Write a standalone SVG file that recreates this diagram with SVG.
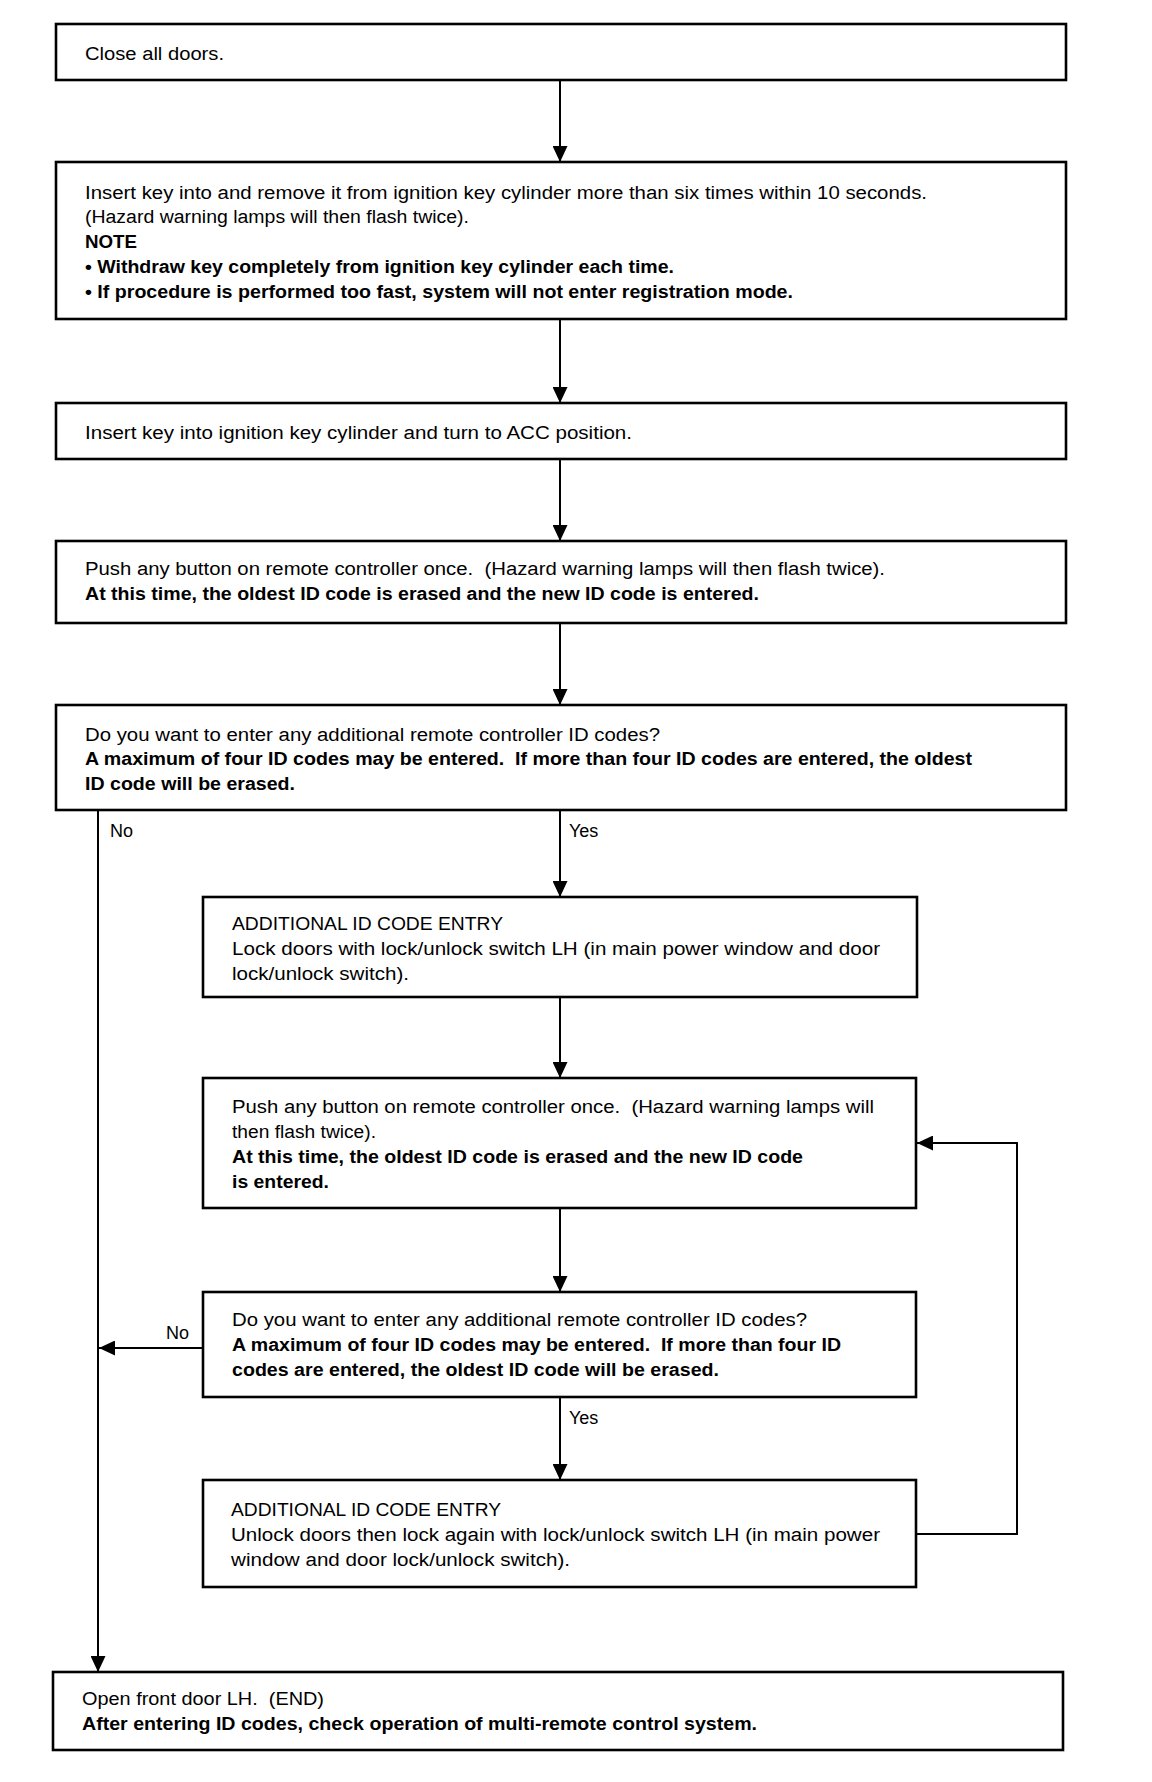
<svg xmlns="http://www.w3.org/2000/svg" width="1152" height="1782" viewBox="0 0 1152 1782">
<style>
.box{fill:#fff;stroke:#000;stroke-width:2.6}
.t{font-family:"Liberation Sans",Arial,sans-serif;font-size:18px;fill:#000;white-space:pre}
.b{font-weight:bold}
.c{fill:none;stroke:#000;stroke-width:2}
</style>
<defs>
<marker id="ah" markerUnits="userSpaceOnUse" markerWidth="17" markerHeight="15" refX="16" refY="7.5" orient="auto">
<path d="M0,0 L16,7.5 L0,15 z" fill="#000"/>
</marker>
</defs>
<rect width="1152" height="1782" fill="#fff"/>
<g id="connectors">
<path class="c" d="M560,80 V162" marker-end="url(#ah)"/>
<path class="c" d="M560,319 V403" marker-end="url(#ah)"/>
<path class="c" d="M560,459 V541" marker-end="url(#ah)"/>
<path class="c" d="M560,623 V705" marker-end="url(#ah)"/>
<path class="c" d="M560,810 V897" marker-end="url(#ah)"/>
<path class="c" d="M560,997 V1078" marker-end="url(#ah)"/>
<path class="c" d="M560,1208 V1292" marker-end="url(#ah)"/>
<path class="c" d="M560,1397 V1480" marker-end="url(#ah)"/>
<path class="c" d="M98,810 V1672" marker-end="url(#ah)"/>
<path class="c" d="M203,1348 H99" marker-end="url(#ah)"/>
<path class="c" d="M916,1534 H1017 V1143 H917" marker-end="url(#ah)"/>
<text class="t" x="110" y="837">No</text>
<text class="t" x="569" y="837">Yes</text>
<text class="t" x="166" y="1339">No</text>
<text class="t" x="569" y="1424">Yes</text>
</g>
<g id="n1">
<rect class="box" x="56" y="24" width="1010" height="56"/>
<text class="t" x="85" y="60" textLength="139" lengthAdjust="spacingAndGlyphs">Close all doors.</text>
</g>
<g id="n2">
<rect class="box" x="56" y="162" width="1010" height="157"/>
<text class="t" x="85" y="199" textLength="842" lengthAdjust="spacingAndGlyphs">Insert key into and remove it from ignition key cylinder more than six times within 10 seconds.</text>
<text class="t" x="85" y="223" textLength="384" lengthAdjust="spacingAndGlyphs">(Hazard warning lamps will then flash twice).</text>
<text class="t b" x="85" y="248" textLength="52" lengthAdjust="spacingAndGlyphs">NOTE</text>
<text class="t b" x="85" y="273" textLength="589" lengthAdjust="spacingAndGlyphs">• Withdraw key completely from ignition key cylinder each time.</text>
<text class="t b" x="85" y="298" textLength="708" lengthAdjust="spacingAndGlyphs">• If procedure is performed too fast, system will not enter registration mode.</text>
</g>
<g id="n3">
<rect class="box" x="56" y="403" width="1010" height="56"/>
<text class="t" x="85" y="439" textLength="547" lengthAdjust="spacingAndGlyphs">Insert key into ignition key cylinder and turn to ACC position.</text>
</g>
<g id="n4">
<rect class="box" x="56" y="541" width="1010" height="82"/>
<text class="t" x="85" y="575" textLength="800" lengthAdjust="spacingAndGlyphs">Push any button on remote controller once.  (Hazard warning lamps will then flash twice).</text>
<text class="t b" x="85" y="600" textLength="674" lengthAdjust="spacingAndGlyphs">At this time, the oldest ID code is erased and the new ID code is entered.</text>
</g>
<g id="n5">
<rect class="box" x="56" y="705" width="1010" height="105"/>
<text class="t" x="85" y="741" textLength="575" lengthAdjust="spacingAndGlyphs">Do you want to enter any additional remote controller ID codes?</text>
<text class="t b" x="85" y="765" textLength="887" lengthAdjust="spacingAndGlyphs">A maximum of four ID codes may be entered.  If more than four ID codes are entered, the oldest</text>
<text class="t b" x="85" y="790" textLength="210" lengthAdjust="spacingAndGlyphs">ID code will be erased.</text>
</g>
<g id="n6">
<rect class="box" x="203" y="897" width="714" height="100"/>
<text class="t" x="232" y="930" textLength="271" lengthAdjust="spacingAndGlyphs">ADDITIONAL ID CODE ENTRY</text>
<text class="t" x="232" y="955" textLength="648" lengthAdjust="spacingAndGlyphs">Lock doors with lock/unlock switch LH (in main power window and door</text>
<text class="t" x="232" y="980" textLength="177" lengthAdjust="spacingAndGlyphs">lock/unlock switch).</text>
</g>
<g id="n7">
<rect class="box" x="203" y="1078" width="713" height="130"/>
<text class="t" x="232" y="1113" textLength="642" lengthAdjust="spacingAndGlyphs">Push any button on remote controller once.  (Hazard warning lamps will</text>
<text class="t" x="232" y="1138" textLength="144" lengthAdjust="spacingAndGlyphs">then flash twice).</text>
<text class="t b" x="232" y="1163" textLength="571" lengthAdjust="spacingAndGlyphs">At this time, the oldest ID code is erased and the new ID code</text>
<text class="t b" x="232" y="1188" textLength="97" lengthAdjust="spacingAndGlyphs">is entered.</text>
</g>
<g id="n8">
<rect class="box" x="203" y="1292" width="713" height="105"/>
<text class="t" x="232" y="1326" textLength="575" lengthAdjust="spacingAndGlyphs">Do you want to enter any additional remote controller ID codes?</text>
<text class="t b" x="232" y="1351" textLength="609" lengthAdjust="spacingAndGlyphs">A maximum of four ID codes may be entered.  If more than four ID</text>
<text class="t b" x="232" y="1376" textLength="487" lengthAdjust="spacingAndGlyphs">codes are entered, the oldest ID code will be erased.</text>
</g>
<g id="n9">
<rect class="box" x="203" y="1480" width="713" height="107"/>
<text class="t" x="231" y="1516" textLength="270" lengthAdjust="spacingAndGlyphs">ADDITIONAL ID CODE ENTRY</text>
<text class="t" x="231" y="1541" textLength="649" lengthAdjust="spacingAndGlyphs">Unlock doors then lock again with lock/unlock switch LH (in main power</text>
<text class="t" x="231" y="1566" textLength="339" lengthAdjust="spacingAndGlyphs">window and door lock/unlock switch).</text>
</g>
<g id="n10">
<rect class="box" x="53" y="1672" width="1010" height="78"/>
<text class="t" x="82" y="1705" textLength="242" lengthAdjust="spacingAndGlyphs">Open front door LH.  (END)</text>
<text class="t b" x="82" y="1730" textLength="675" lengthAdjust="spacingAndGlyphs">After entering ID codes, check operation of multi-remote control system.</text>
</g>
</svg>
